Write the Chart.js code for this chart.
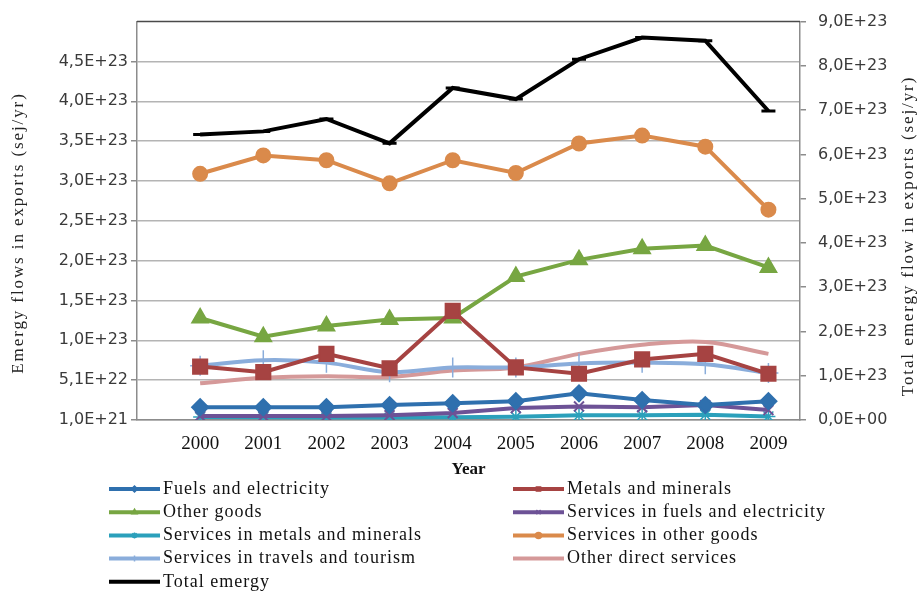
<!DOCTYPE html>
<html>
<head>
<meta charset="utf-8">
<script src="https://cdn.jsdelivr.net/npm/chart.js@4.4.1/dist/chart.umd.min.js"></script>
<style>
  html, body { margin: 0; padding: 0; background: #fff; }
  #wrap { width: 921px; height: 596px; position: relative; }
</style>
</head>
<body>
<div id="wrap"><canvas id="chart"></canvas></div>
<script>
const years = [2000, 2001, 2002, 2003, 2004, 2005, 2006, 2007, 2008, 2009];

// sej/yr, left axis
const fuelsElectricity = [1.7e22, 1.7e22, 1.7e22, 1.97e22, 2.2e22, 2.46e22, 3.45e22, 2.6e22, 1.97e22, 2.46e22];
const metalsMinerals = [6.8e22, 6.1e22, 8.4e22, 6.6e22, 1.38e23, 6.7e22, 5.9e22, 7.7e22, 8.4e22, 5.9e22];
const otherGoods = [1.29e23, 1.055e23, 1.19e23, 1.27e23, 1.29e23, 1.81e23, 2.02e23, 2.16e23, 2.2e23, 1.925e23];
const servFuels = [6e21, 6e21, 6e21, 7e21, 9.7e21, 1.6e22, 1.8e22, 1.7e22, 1.97e22, 1.35e22];
const servMetals = [4.7e21, 4.5e21, 4e21, 4e21, 4.5e21, 5e21, 7e21, 7e21, 7.5e21, 5.5e21];
const servOtherGoods = [3.1e23, 3.33e23, 3.27e23, 2.98e23, 3.27e23, 3.11e23, 3.48e23, 3.58e23, 3.44e23, 2.65e23];
const servTravel = [6.9e22, 7.6e22, 7.3e22, 6.1e22, 6.7e22, 6.7e22, 7.2e22, 7.3e22, 7.1e22, 6.0e22];
const otherDirect = [4.7e22, 5.4e22, 5.6e22, 5.5e22, 6.3e22, 6.7e22, 8.4e22, 9.55e22, 9.9e22, 8.4e22];
// sej/yr, right axis
const totalEmergy = [6.45e23, 6.52e23, 6.8e23, 6.25e23, 7.5e23, 7.25e23, 8.15e23, 8.64e23, 8.57e23, 6.98e23];

const leftTickValues = [1e21, 5.1e22, 1.01e23, 1.51e23, 2.01e23, 2.51e23, 3.01e23, 3.51e23, 4.01e23, 4.51e23];
const leftTickLabels = ['1,0E+21', '5,1E+22', '1,0E+23', '1,5E+23', '2,0E+23', '2,5E+23', '3,0E+23', '3,5E+23', '4,0E+23', '4,5E+23'];
const rightTickValues = [0, 1e23, 2e23, 3e23, 4e23, 5e23, 6e23, 7e23, 8e23, 9e23];
const rightTickLabels = ['0,0E+00', '1,0E+23', '2,0E+23', '3,0E+23', '4,0E+23', '5,0E+23', '6,0E+23', '7,0E+23', '8,0E+23', '9,0E+23'];

const pts = vals => years.map((yr, i) => ({ x: yr, y: vals[i] }));

function series(label, vals, color, style, radius, extra) {
  return Object.assign({
    label: label,
    data: pts(vals),
    borderColor: color,
    backgroundColor: color,
    borderWidth: 4,
    pointStyle: style,
    pointRadius: radius,
    pointHoverRadius: radius,
    pointBorderWidth: 2,
    yAxisID: 'y'
  }, extra || {});
}

const datasets = [
  series('Fuels and electricity', fuelsElectricity, '#2f70ae', 'rectRot', 8),
  series('Metals and minerals', metalsMinerals, '#a64342', 'rect', 10),
  series('Other goods', otherGoods, '#77a642', 'triangle', 9),
  series('Services in fuels and electricity', servFuels, '#6d5296', 'crossRot', 7),
  series('Services in metals and minerals', servMetals, '#2ba0bb', 'star', 7, { pointBorderWidth: 1.5 }),
  series('Services in other goods', servOtherGoods, '#da8a4b', 'circle', 7),
  series('Services in travels and tourism', servTravel, '#8aaddb', 'cross', 10, { tension: 0.35, pointBorderWidth: 1.5 }),
  series('Other direct services', otherDirect, '#d59999', false, 0, { tension: 0.35 }),
  series('Total emergy', totalEmergy, '#000000', 'line', 7, { yAxisID: 'y1', pointBorderWidth: 3 })
];

const serif = '"Liberation Serif", "DejaVu Serif", serif';
const tickFont = { family: '"DejaVu Sans", sans-serif', size: 16 };

// plot frame top edge, rotated axis titles and the two-column legend
const decorations = {
  id: 'decorations',
  afterDraw(chart) {
    const ctx = chart.ctx;
    const a = chart.chartArea;
    ctx.save();
    ctx.strokeStyle = '#4a4a4a';
    ctx.lineWidth = 1.5;
    ctx.beginPath();
    ctx.moveTo(a.left, a.top);
    ctx.lineTo(a.right, a.top);
    ctx.stroke();

    ctx.fillStyle = '#222';
    ctx.font = '17px ' + serif;
    ctx.letterSpacing = '1.9px';
    ctx.textAlign = 'center';
    ctx.textBaseline = 'middle';
    [[19, 233, 'Emergy flows in exports (sej/yr)'], [909, 236, 'Total emergy flow in exports (sej/yr)']].forEach(t => {
      ctx.save();
      ctx.translate(t[0], t[1]);
      ctx.rotate(-Math.PI / 2);
      ctx.fillText(t[2], 0, 0);
      ctx.restore();
    });

    ctx.font = '18px ' + serif;
    ctx.letterSpacing = '1px';
    ctx.textAlign = 'left';
    chart.data.datasets.forEach((ds, i) => {
      const x0 = i % 2 === 0 ? 109 : 513;
      const y = 489 + Math.floor(i / 2) * 23.2;
      ctx.strokeStyle = ds.borderColor;
      ctx.lineWidth = 4;
      ctx.beginPath();
      ctx.moveTo(x0, y);
      ctx.lineTo(x0 + 51, y);
      ctx.stroke();
      if (ds.pointStyle && ds.pointStyle !== 'line' && Chart.helpers) {
        ctx.fillStyle = ds.borderColor;
        ctx.lineWidth = 1.5;
        Chart.helpers.drawPoint(ctx, { pointStyle: ds.pointStyle, radius: 3, rotation: 0, borderWidth: 1.5 }, x0 + 25.5, y);
      }
      ctx.fillStyle = '#111';
      ctx.fillText(ds.label, x0 + 54, y);
    });
    ctx.letterSpacing = '0px';
    ctx.restore();
  }
};

new Chart(document.getElementById('chart'), {
  type: 'line',
  data: { datasets: datasets },
  plugins: [decorations],
  options: {
    responsive: true,
    maintainAspectRatio: false,
    animation: false,
    layout: { padding: { top: 17, bottom: 116, left: 0, right: 0 } },
    plugins: {
      legend: { display: false },
      tooltip: { enabled: false }
    },
    scales: {
      x: {
        type: 'linear',
        min: 1999,
        max: 2009.5,
        afterBuildTicks: s => { s.ticks = years.map(v => ({ value: v })); },
        afterFit: s => { s.height = 60; },
        grid: { display: false, drawTicks: false },
        border: { color: '#8c8c8c', width: 1.5 },
        ticks: {
          autoSkip: false,
          maxRotation: 0,
          padding: 13,
          color: '#111',
          font: { family: serif, size: 19 },
          callback: v => String(v)
        },
        title: {
          display: true,
          text: 'Year',
          color: '#111',
          font: { family: serif, size: 17, weight: 'bold' },
          padding: { top: 0, bottom: 0 }
        }
      },
      y: {
        position: 'left',
        min: 1e21,
        max: 5.01e23,
        afterBuildTicks: s => { s.ticks = leftTickValues.map(v => ({ value: v })); },
        afterFit: s => { s.width = 137; },
        grid: { color: '#b4b4b4', lineWidth: 1.5, tickLength: 6, tickColor: '#8c8c8c' },
        border: { color: '#8c8c8c', width: 1.5 },
        ticks: {
          autoSkip: false,
          padding: 3,
          color: '#3a3a3a',
          font: tickFont,
          callback: (v, i) => leftTickLabels[i]
        }
      },
      y1: {
        position: 'right',
        min: 0,
        max: 9e23,
        afterBuildTicks: s => { s.ticks = rightTickValues.map(v => ({ value: v })); },
        afterFit: s => { s.width = 121; },
        grid: { drawOnChartArea: false, tickLength: 6, tickColor: '#8c8c8c', lineWidth: 1.5 },
        border: { color: '#8c8c8c', width: 1.5 },
        ticks: {
          autoSkip: false,
          padding: 12,
          color: '#3a3a3a',
          font: tickFont,
          callback: (v, i) => rightTickLabels[i]
        }
      }
    }
  }
});
</script>
</body>
</html>
